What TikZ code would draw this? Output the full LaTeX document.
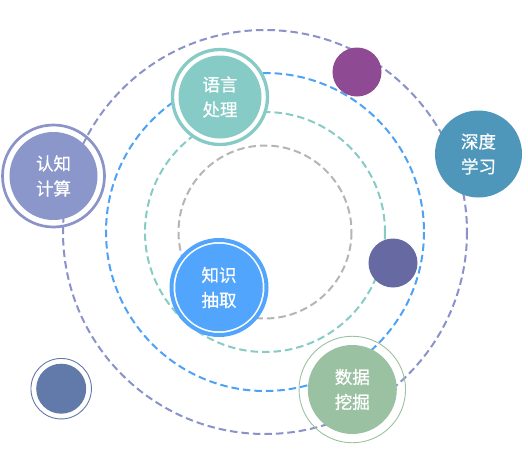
\documentclass[tikz,border=0pt]{standalone}
\usepackage{fontspec}
\newfontfamily\cjk[FakeBold=0.6]{Noto Sans CJK SC}
\usetikzlibrary{positioning}
\definecolor{orbitOuter}{HTML}{8A92C9}
\definecolor{orbitBlue}{HTML}{4DA2F7}
\definecolor{orbitTeal}{HTML}{86CCC5}
\definecolor{orbitGray}{HTML}{B5B5B5}
\definecolor{cLang}{HTML}{86CBC6}
\definecolor{cCog}{HTML}{8B97CB}
\definecolor{cCogRing}{HTML}{8B93C8}
\definecolor{cDeep}{HTML}{4E97BA}
\definecolor{cPurple}{HTML}{8E4B93}
\definecolor{cDusk}{HTML}{676AA2}
\definecolor{cKnow}{HTML}{52A5FD}
\definecolor{cMine}{HTML}{9AC1A1}
\definecolor{cSmall}{HTML}{617AA9}

\begin{document}
\begin{tikzpicture}[x=1pt,y=-1pt,
  orbit/.style={draw=#1,line width=2pt,dash pattern=on 7.5pt off 4pt},
  topic/.style={circle,fill=#1,text=white,inner sep=0pt,align=center,
    font=\cjk\fontsize{17.5}{25}\selectfont},
  dot/.style={circle,fill=#1,inner sep=0pt},
  ring/.style={circle,draw=#1,inner sep=0pt}]
  \useasboundingbox (0,0) rectangle (528,469);
  \coordinate (c) at (265,232);
  % orbits
  \draw[orbit=orbitOuter] (c) circle[radius=202];
  \draw[orbit=orbitBlue] (c) circle[radius=159];
  \draw[orbit=orbitTeal] (c) circle[radius=120];
  \draw[orbit=orbitGray] (c) circle[radius=86.5];
  % rings
  \node[ring=cLang,fill=white,line width=3.3pt,minimum size=95pt] (lang_r) at (220,97) {};
  \node[ring=cCogRing,line width=2.7pt,minimum size=102pt] (cog_r) at (53.5,176) {};
  \node[ring=cKnow,fill=white,line width=4pt,minimum size=95pt] (know_r) at (219,287.5) {};
  \node[ring=cMine,line width=0.9pt,minimum size=106.5pt] (mine_r) at (352.3,389.5) {};
  \node[ring=cSmall,line width=0.9pt,minimum size=60.5pt] (small_r) at (61.2,388.7) {};
  % topics
  \node[topic=cLang,minimum size=83pt] (lang) at (lang_r) {语言\\处理};
  \node[topic=cCog,minimum size=88pt] (cog) at (cog_r) {认知\\计算};
  \node[topic=cDeep,minimum size=87pt] (deep) at (478.5,154) {深度\\学习};
  \node[topic=cKnow,minimum size=87.5pt] (know) at (know_r) {知识\\抽取};
  \node[topic=cMine,minimum size=89pt] (mine) at (mine_r) {数据\\挖掘};
  % dots
  \node[dot=cPurple,minimum size=49pt] (p1) at (357,72) {};
  \node[dot=cDusk,minimum size=49pt] (p2) at (393,263) {};
  \node[dot=cSmall,minimum size=50pt] (p3) at (small_r) {};
\end{tikzpicture}
\end{document}
